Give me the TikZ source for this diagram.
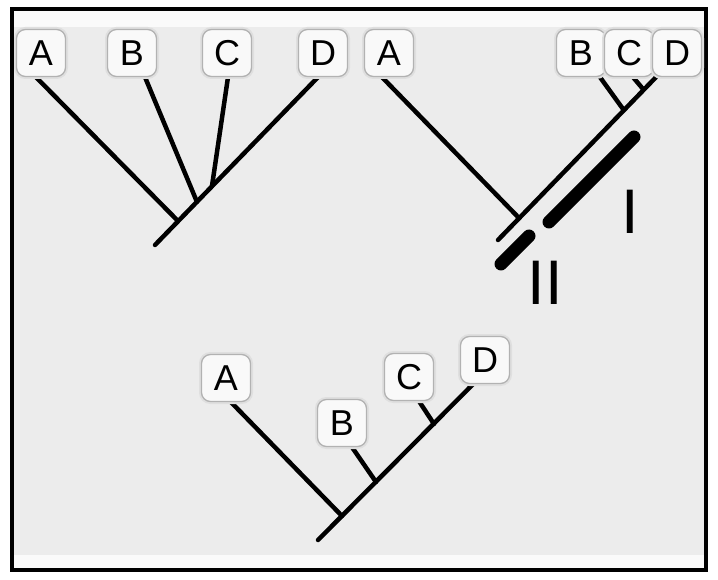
\documentclass[tikz,border=0pt]{standalone}
\usepackage{fontspec}
\setmainfont{Liberation Sans}
\pgfdeclarelayer{background}
\pgfsetlayers{background,main}
\definecolor{panel}{HTML}{ECECEC}
\definecolor{strip}{HTML}{FAFAFA}
\begin{document}
\begin{tikzpicture}[x=1pt,y=-1pt,
  tag/.style={draw=gray!60, line width=1.3pt, fill=white!95!gray,
    rounded corners=9pt, minimum width=49pt, minimum height=47pt, inner sep=0pt,
    font=\fontsize{36}{36}\selectfont,
    preaction={draw=gray!25, line width=5pt}},
  branch/.style={line width=4.5pt, line cap=round},
  bar/.style={line width=13pt, line cap=round},
  roman/.style={font=\fontsize{63}{63}\selectfont, inner sep=0pt}]
\useasboundingbox (0,0) rectangle (718,580);
\begin{pgfonlayer}{background}
\fill[white] (0,0) rectangle (718,580);
\fill[strip] (12,9) rectangle (706,570);
\fill[panel] (14,27) rectangle (704,555);
\draw[line width=4pt] (12,9) rectangle (706,570);
\end{pgfonlayer}

% ---------- top-left tree ----------
\node[tag] (a1) at (41,53) {A};
\node[tag] (b1) at (132,53) {B};
\node[tag] (c1) at (227,53) {C};
\node[tag] (d1) at (323,53) {D};
\coordinate (r1) at (155,245);
\coordinate (ja1) at (178,221);
\coordinate (jb1) at (197,202);
\coordinate (jc1) at (212,186);
\begin{pgfonlayer}{background}
\draw[branch] (r1) -- ([xshift=-5pt]d1.south);
\draw[branch] (ja1) -- ([xshift=-5pt]a1.south);
\draw[branch] (jb1) -- ([xshift=13pt]b1.south);
\draw[branch] (jc1) -- ([xshift=1pt]c1.south);
\end{pgfonlayer}

% ---------- top-right tree ----------
\node[tag] (a2) at (389,53) {A};
\node[tag] (b2) at (581,53) {B};
\node[tag] (c2) at (629,53) {C};
\node[tag] (d2) at (677,53) {D};
\coordinate (r2) at (498,240);
\coordinate (ja2) at (519,218);
\coordinate (jb2) at (623,109);
\coordinate (jc2) at (643,89);
\begin{pgfonlayer}{background}
\draw[branch] (r2) -- ([xshift=-21pt]d2.south);
\draw[branch] (ja2) -- ([xshift=-7pt]a2.south);
\draw[branch] (jb2) -- ([xshift=19pt]b2.south);
\draw[branch] (jc2) -- ([xshift=4pt]c2.south);
\end{pgfonlayer}
\coordinate (i1) at (549,222);
\coordinate (i2) at (634,137);
\coordinate (ii1) at (501,264);
\coordinate (ii2) at (529,236);
\draw[bar] (i1) -- (i2);
\draw[bar] (ii1) -- (ii2);
\node[roman] (lI) at (630,212) {I};
\node[roman] (lII) at (545,283) {II};

% ---------- bottom tree ----------
\node[tag] (a3) at (226,378) {A};
\node[tag] (b3) at (342,423) {B};
\node[tag] (c3) at (409,377) {C};
\node[tag] (d3) at (485,360) {D};
\coordinate (r3) at (318,540);
\coordinate (ja3) at (342,516);
\coordinate (jb3) at (376,482);
\coordinate (jc3) at (434,424);
\begin{pgfonlayer}{background}
\draw[branch] (r3) -- ([xshift=-12pt]d3.south);
\draw[branch] (ja3) -- ([xshift=5pt]a3.south);
\draw[branch] (jb3) -- ([xshift=10pt]b3.south);
\draw[branch] (jc3) -- ([xshift=10pt]c3.south);
\end{pgfonlayer}
\end{tikzpicture}
\end{document}
